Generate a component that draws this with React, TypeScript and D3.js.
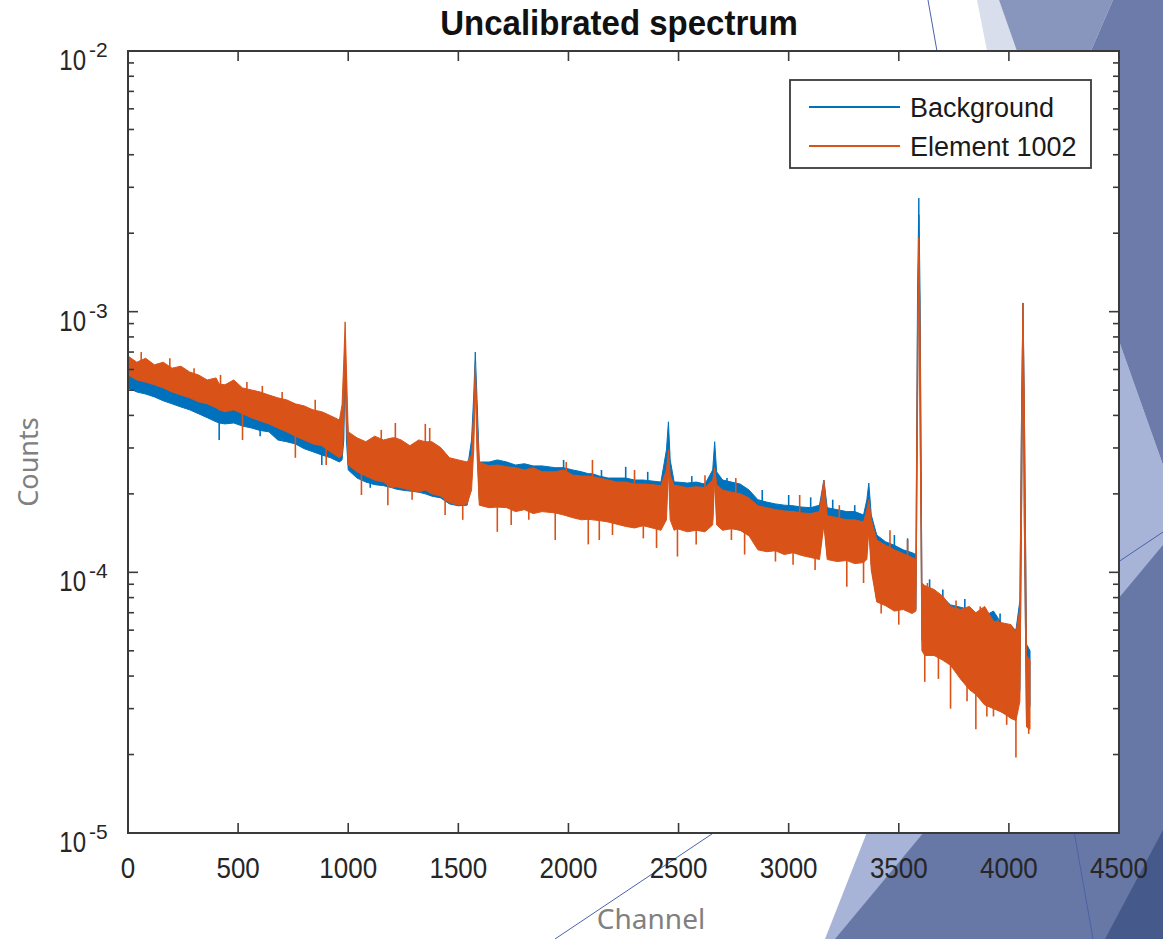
import React, { useEffect, useRef } from "react";
import * as d3 from "d3";

// counts are stored in units of 1e-4
const UNIT = 1e-4;

const channels = [
  0, 40, 80, 120, 160, 200, 240, 280, 320, 360,
  400, 414, 440, 480, 520, 560, 600, 640, 680, 720,
  760, 800, 840, 880, 920, 960, 972, 980, 986, 992,
  1000, 1040, 1080, 1120, 1160, 1200, 1214, 1240, 1280, 1320,
  1350, 1380, 1420, 1460, 1500, 1540, 1560, 1570, 1577, 1585,
  1595, 1640, 1677, 1720, 1760, 1800, 1840, 1880, 1940, 1978,
  2020, 2060, 2090, 2109, 2140, 2180, 2220, 2260, 2300, 2340,
  2380, 2420, 2445, 2454, 2462, 2480, 2495, 2540, 2580, 2620,
  2655, 2664, 2673, 2700, 2740, 2780, 2820, 2860, 2900, 2940,
  2980, 3020, 3060, 3100, 3140, 3160, 3175, 3220, 3264, 3300,
  3340, 3355, 3364, 3375, 3400, 3440, 3480, 3520, 3560, 3578,
  3585, 3591, 3597, 3605, 3618, 3660, 3700, 3735, 3780, 3820,
  3850, 3890, 3930, 3970, 4010, 4032, 4050, 4058, 4064, 4070,
  4080, 4096,
];

// upper / lower edge of the noisy trace, Background
const backgroundHigh = [
  6.40, 6.18, 6.29, 5.98, 5.87, 5.67, 5.57, 5.37, 5.28, 5.10,
  5.01, 4.92, 4.83, 4.75, 4.67, 4.51, 4.39, 4.28, 4.20, 4.09,
  3.99, 3.84, 3.78, 3.68, 3.58, 3.46, 3.52, 5.47, 7.32, 4.79,
  3.22, 3.01, 2.95, 2.90, 2.82, 2.75, 2.79, 2.75, 2.70, 2.70,
  2.65, 2.61, 2.56, 2.56, 2.52, 2.47, 3.22, 4.79, 7.00, 4.59,
  2.65, 2.65, 2.70, 2.65, 2.58, 2.61, 2.56, 2.56, 2.52, 2.52,
  2.47, 2.43, 2.39, 2.39, 2.34, 2.30, 2.30, 2.30, 2.26, 2.26,
  2.24, 2.22, 2.95, 3.78, 2.70, 2.22, 2.22, 2.20, 2.22, 2.18,
  2.47, 3.17, 2.43, 2.26, 2.22, 2.18, 2.07, 1.90, 1.86, 1.83,
  1.81, 1.80, 1.78, 1.77, 1.81, 2.26, 1.77, 1.74, 1.71, 1.71,
  1.66, 1.90, 2.20, 1.66, 1.39, 1.31, 1.27, 1.22, 1.19, 1.17,
  11.1, 27.3, 11.1, 0.89, 0.87, 0.84, 0.80, 0.75, 0.735, 0.72,
  0.695, 0.68, 0.71, 0.63, 0.62, 0.60, 0.78, 4.59, 10.8, 4.59,
  0.53, 0.50,
];

const backgroundLow = [
  5.10, 4.92, 4.83, 4.71, 4.55, 4.43, 4.31, 4.20, 4.06, 3.92,
  3.78, 3.74, 3.71, 3.74, 3.64, 3.58, 3.50, 3.46, 3.22, 3.17,
  3.11, 2.98, 2.90, 2.82, 2.75, 2.65, 2.70, 3.22, 6.25, 3.22,
  2.47, 2.30, 2.22, 2.17, 2.15, 2.11, 2.09, 2.07, 2.05, 2.03,
  2.00, 1.96, 1.93, 1.83, 1.80, 1.81, 2.26, 3.52, 5.98, 3.22,
  1.90, 1.81, 1.80, 1.81, 1.77, 1.77, 1.74, 1.74, 1.71, 1.71,
  1.68, 1.65, 1.59, 1.62, 1.59, 1.59, 1.56, 1.56, 1.53, 1.53,
  1.50, 1.49, 1.74, 3.22, 1.74, 1.48, 1.48, 1.48, 1.45, 1.45,
  1.59, 2.70, 1.59, 1.49, 1.48, 1.45, 1.39, 1.28, 1.24, 1.22,
  1.20, 1.20, 1.18, 1.16, 1.16, 1.59, 1.16, 1.12, 1.12, 1.10,
  1.10, 1.22, 1.59, 1.07, 0.78, 0.76, 0.745, 0.735, 0.71, 0.72,
  4.59, 23.5, 3.84, 0.55, 0.50, 0.50, 0.48, 0.44, 0.41, 0.395,
  0.355, 0.32, 0.31, 0.29, 0.28, 0.28, 0.355, 1.90, 9.29, 1.59,
  0.26, 0.31,
];

// upper / lower edge of the noisy trace, Element 1002
const elementHigh = [
  6.76, 6.40, 6.63, 6.25, 6.40, 6.07, 6.18, 5.87, 5.72, 5.47,
  5.57, 5.28, 5.24, 5.47, 5.10, 5.01, 4.92, 4.79, 4.67, 4.59,
  4.43, 4.35, 4.20, 4.13, 3.99, 3.84, 4.39, 6.53, 9.14, 5.98,
  3.46, 3.28, 3.17, 3.33, 3.22, 3.28, 3.28, 3.22, 3.06, 3.22,
  3.17, 3.17, 3.01, 2.75, 2.70, 2.65, 2.82, 4.20, 6.25, 3.84,
  2.65, 2.56, 2.58, 2.54, 2.52, 2.47, 2.52, 2.43, 2.43, 2.47,
  2.36, 2.34, 2.34, 2.33, 2.30, 2.26, 2.22, 2.22, 2.18, 2.18,
  2.17, 2.15, 2.47, 2.95, 2.36, 2.15, 2.15, 2.11, 2.13, 2.11,
  2.26, 2.52, 2.17, 2.07, 2.03, 2.00, 1.93, 1.80, 1.77, 1.74,
  1.72, 1.71, 1.69, 1.68, 1.71, 2.26, 1.65, 1.62, 1.59, 1.59,
  1.56, 1.74, 1.90, 1.59, 1.33, 1.27, 1.22, 1.18, 1.14, 1.12,
  8.51, 19.2, 8.51, 0.91, 0.89, 0.86, 0.81, 0.74, 0.72, 0.74,
  0.70, 0.74, 0.65, 0.64, 0.63, 0.59, 0.72, 4.59, 10.8, 4.59,
  0.48, 0.46,
];

const elementLow = [
  5.72, 5.47, 5.37, 5.24, 5.10, 4.92, 4.79, 4.67, 4.51, 4.43,
  4.28, 4.20, 4.13, 4.20, 4.06, 3.92, 3.81, 3.71, 3.58, 3.46,
  3.33, 3.22, 3.11, 3.06, 2.90, 2.75, 2.82, 3.84, 7.79, 3.84,
  2.58, 2.43, 2.34, 2.26, 2.22, 2.11, 2.13, 2.11, 2.07, 2.03,
  2.07, 2.00, 1.96, 1.85, 1.81, 1.83, 2.07, 2.95, 5.24, 2.82,
  1.81, 1.77, 1.78, 1.77, 1.71, 1.74, 1.68, 1.71, 1.69, 1.66,
  1.62, 1.59, 1.60, 1.59, 1.58, 1.56, 1.53, 1.50, 1.48, 1.51,
  1.48, 1.45, 1.59, 2.47, 1.59, 1.45, 1.47, 1.43, 1.45, 1.43,
  1.52, 2.26, 1.52, 1.45, 1.47, 1.45, 1.38, 1.22, 1.20, 1.21,
  1.17, 1.19, 1.16, 1.14, 1.12, 1.52, 1.12, 1.10, 1.11, 1.08,
  1.09, 1.12, 1.45, 1.02, 0.77, 0.745, 0.71, 0.72, 0.695, 0.71,
  3.84, 16.5, 3.52, 0.50, 0.48, 0.48, 0.46, 0.44, 0.39, 0.355,
  0.34, 0.31, 0.30, 0.29, 0.275, 0.27, 0.32, 1.90, 9.29, 1.59,
  0.255, 0.25,
];

// single-channel excursions of each trace
const backgroundSpikeChannels = [
  414, 600, 880, 1100, 1978, 2150, 2260, 2360, 2560, 2720,
  2880, 3000, 3100, 3200, 3300, 3480, 3540, 3640, 3700, 3800,
  3960,
];
const backgroundSpikeValues = [
  3.22, 3.33, 2.58, 2.11, 2.70, 2.47, 2.54, 2.43, 2.34, 2.30,
  2.07, 1.98, 1.94, 1.90, 1.81, 1.39, 1.35, 0.94, 0.86, 0.79,
  0.695,
];
const elementSpikeChannels = [
  60, 190, 300, 420, 520, 540, 610, 700, 760, 850,
  900, 1060, 1150, 1180, 1214, 1290, 1350, 1370, 1440, 1520,
  1677, 1740, 1820, 1940, 1990, 2090, 2109, 2140, 2200, 2300,
  2340, 2400, 2495, 2580, 2620, 2740, 2760, 2800, 2940, 3020,
  3050, 3120, 3230, 3264, 3340, 3420, 3460, 3500, 3540, 3618,
  3630, 3680, 3735, 3760, 3810, 3850, 3870, 3900, 3930, 3950,
  3990, 4032, 4090,
];
const elementSpikeValues = [
  7.0, 6.63, 6.07, 5.72, 3.22, 5.37, 5.19, 4.92, 2.75, 4.59,
  2.58, 1.98, 3.52, 1.81, 3.74, 1.90, 3.71, 3.58, 1.66, 1.59,
  1.43, 1.52, 1.59, 1.33, 2.65, 1.28, 2.70, 1.33, 1.39, 2.47,
  1.35, 1.24, 1.15, 1.28, 2.36, 1.33, 2.30, 1.17, 1.10, 1.07,
  1.98, 1.02, 1.81, 0.88, 0.91, 0.695, 1.45, 0.63, 1.33, 0.38,
  0.91, 0.39, 0.30, 0.78, 0.32, 0.25, 0.74, 0.28, 0.28, 0.66,
  0.26, 0.195, 0.24,
];

const seriesNames = ["Background", "Element 1002"];
const seriesColors = ["#0072BD", "#D95319"];
const xTicks = [0, 500, 1000, 1500, 2000, 2500, 3000, 3500, 4000, 4500];
const yExponents = [-5, -4, -3, -2];

export default function App() {
  const ref = useRef<SVGSVGElement>(null);

  useEffect(() => {
    const svg = d3.select(ref.current);
    svg.selectAll("*").remove();

    const W = 1163;
    const H = 939;
    const left = 128, right = 1119, top = 51, bottom = 833;

    svg.append("rect").attr("width", W).attr("height", H).attr("fill", "#ffffff");

    // slide decoration (theme shapes behind the chart)
    const deco = svg.append("g");
    const poly = (pts: number[][], fill: string) =>
      deco.append("polygon").attr("points", pts.map(p => p.join(",")).join(" ")).attr("fill", fill);
    poly([[977, 0], [999, 0], [1040, 117], [1000, 117]], "#d9deed");
    poly([[999, 0], [1113, 0], [1050, 145], [1040, 117]], "#8895bd");
    poly([[825, 939], [1091, 262], [1163, 465], [1163, 939]], "#a7b4d7");
    poly([[1113, 0], [1163, 0], [1163, 465], [1091, 262], [1050, 145]], "#6c7ba9");
    poly([[835, 939], [1163, 545], [1163, 939]], "#6777a6");
    poly([[1105, 939], [1163, 830], [1163, 939]], "#46598b");
    deco.append("line").attr("x1", 928).attr("y1", 0).attr("x2", 1093).attr("y2", 939)
      .attr("stroke", "#4a62a8").attr("stroke-width", 1);
    deco.append("line").attr("x1", 555).attr("y1", 939).attr("x2", 1163).attr("y2", 532)
      .attr("stroke", "#4a62a8").attr("stroke-width", 1);

    // slide axis titles
    svg.append("text").attr("x", 651).attr("y", 929).attr("text-anchor", "middle")
      .attr("font-family", "'Noto Sans', sans-serif").attr("font-size", 28).attr("fill", "#808080")
      .text("Channel");
    svg.append("text").attr("transform", "translate(38,462) rotate(-90)").attr("text-anchor", "middle")
      .attr("font-family", "'Noto Sans', sans-serif").attr("font-size", 27).attr("fill", "#808080")
      .text("Counts");

    const x = d3.scaleLinear().domain([0, 4500]).range([left, right]);
    const y = d3.scaleLog().domain([1e-5, 1e-2]).range([bottom, top]);

    svg.append("rect").attr("x", left).attr("y", top).attr("width", right - left).attr("height", bottom - top)
      .attr("fill", "#ffffff");

    svg.append("clipPath").attr("id", "plotclip").append("rect")
      .attr("x", left).attr("y", top).attr("width", right - left).attr("height", bottom - top);

    const plot = svg.append("g").attr("clip-path", "url(#plotclip)");
    const series = [
      { hi: backgroundHigh, lo: backgroundLow, sc: backgroundSpikeChannels, sv: backgroundSpikeValues },
      { hi: elementHigh, lo: elementLow, sc: elementSpikeChannels, sv: elementSpikeValues },
    ];
    const bisect = d3.bisector((c: number) => c).center;
    series.forEach((s, k) => {
      const area = d3.area<number>()
        .x(c => x(c))
        .y0((_, i) => y(s.lo[i] * UNIT))
        .y1((_, i) => y(s.hi[i] * UNIT));
      plot.append("path").attr("d", area(channels))
        .attr("fill", seriesColors[k]).attr("stroke", seriesColors[k])
        .attr("stroke-width", 1).attr("stroke-linejoin", "round");
      // spikes: from the middle of the band to the excursion value
      plot.append("g").selectAll("line").data(s.sc).join("line")
        .attr("x1", c => x(c)).attr("x2", c => x(c))
        .attr("y1", c => {
          const i = bisect(channels, c);
          return y(Math.sqrt(s.hi[i] * s.lo[i]) * UNIT);
        })
        .attr("y2", (_, j) => y(s.sv[j] * UNIT))
        .attr("stroke", seriesColors[k]).attr("stroke-width", 1.6);
    });

    // axes box and ticks
    const axisColor = "#3a3a3a";
    const ticks = svg.append("g").attr("stroke", axisColor).attr("stroke-width", 1.6);
    xTicks.forEach(t => {
      ticks.append("line").attr("x1", x(t)).attr("x2", x(t)).attr("y1", bottom).attr("y2", bottom - 10);
      ticks.append("line").attr("x1", x(t)).attr("x2", x(t)).attr("y1", top).attr("y2", top + 10);
    });
    yExponents.forEach(e => {
      const v = Math.pow(10, e);
      ticks.append("line").attr("x1", left).attr("x2", left + 10).attr("y1", y(v)).attr("y2", y(v));
      ticks.append("line").attr("x1", right).attr("x2", right - 10).attr("y1", y(v)).attr("y2", y(v));
      if (e < -2) {
        for (let m = 2; m <= 9; m++) {
          const yy = y(m * v);
          ticks.append("line").attr("x1", left).attr("x2", left + 6).attr("y1", yy).attr("y2", yy);
          ticks.append("line").attr("x1", right).attr("x2", right - 6).attr("y1", yy).attr("y2", yy);
        }
      }
    });
    svg.append("rect").attr("x", left).attr("y", top).attr("width", right - left).attr("height", bottom - top)
      .attr("fill", "none").attr("stroke", axisColor).attr("stroke-width", 2);

    const labelFont = "'Liberation Sans', Arial, sans-serif";
    xTicks.forEach(t => {
      svg.append("text").attr("transform", `translate(${x(t)},878) scale(1,1.17)`)
        .attr("text-anchor", "middle").attr("font-family", labelFont).attr("font-size", 26)
        .attr("fill", "#262626").text(t);
    });
    yExponents.forEach(e => {
      const yy = y(Math.pow(10, e));
      svg.append("text").attr("transform", `translate(86,${yy + 19}) scale(1,1.25)`)
        .attr("text-anchor", "end").attr("font-family", labelFont).attr("font-size", 24)
        .attr("fill", "#262626").text("10");
      svg.append("text").attr("transform", `translate(89,${yy + 6})`)
        .attr("font-family", labelFont).attr("font-size", 21)
        .attr("fill", "#262626").text(`-${-e}`);
    });

    // title
    svg.append("text").attr("transform", "translate(619,35) scale(1,1.06)").attr("text-anchor", "middle")
      .attr("font-family", labelFont).attr("font-weight", "bold").attr("font-size", 33)
      .attr("fill", "#111111").text("Uncalibrated spectrum");

    // legend
    const lg = svg.append("g");
    lg.append("rect").attr("x", 790).attr("y", 80).attr("width", 301).attr("height", 88)
      .attr("fill", "#ffffff").attr("stroke", axisColor).attr("stroke-width", 1.8);
    seriesNames.forEach((name, i) => {
      const ly = 107 + i * 39;
      lg.append("line").attr("x1", 809).attr("x2", 900).attr("y1", ly).attr("y2", ly)
        .attr("stroke", seriesColors[i]).attr("stroke-width", 2);
      lg.append("text").attr("x", 910).attr("y", ly + 10).attr("font-family", labelFont)
        .attr("font-size", 27).attr("fill", "#1a1a1a").text(name);
    });
  }, []);

  return (
    <div style={{ position: "absolute", left: 0, top: 0 }}>
      <svg ref={ref} width={1163} height={939} />
    </div>
  );
}
